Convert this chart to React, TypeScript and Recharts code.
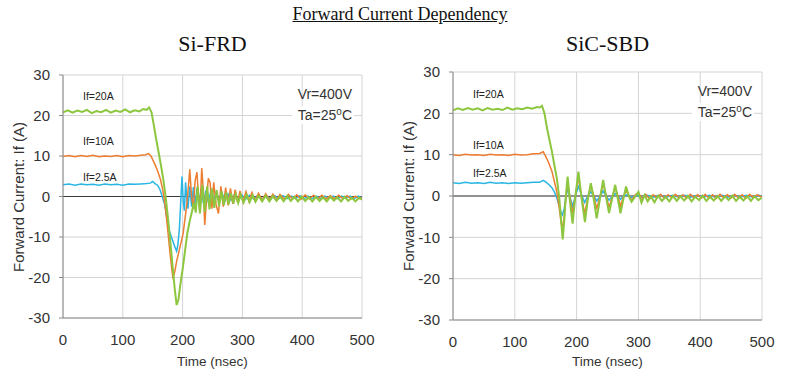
import { LineChart, Line, XAxis, YAxis, CartesianGrid, ReferenceLine } from 'recharts';

// time ticks (nsec) and current ticks (A)
const timeTicks = [0, 100, 200, 300, 400, 500];
const currentTicks = [-30, -20, -10, 0, 10, 20, 30];

// Si-FRD waveforms, [time nsec, current A]
const siFrd20: [number, number][] = [
  [0, 20.8], [8, 21.3], [16, 20.7], [24, 21.2], [32, 20.9], [40, 21.4], [48, 20.6], [56, 21.1], [64, 20.8], [72, 21.4],
  [80, 20.7], [88, 21.2], [96, 20.9], [104, 21.5], [112, 20.8], [120, 21.3], [128, 21.0], [134, 21.6], [140, 21.4], [144, 22.0],
  [148, 20.8], [152, 17.5], [156, 14], [160, 10.8], [164, 7.5], [168, 4], [172, -0.5], [176, -6], [180, -12], [184, -18.5],
  [187, -23], [190, -26.8], [193, -25.5], [196, -22], [200, -18], [204, -13.5], [208, -9], [212, -6], [216, -3.5], [219, -1.5],
  [222, -4], [225, 2.5], [229, -4.2], [233, 2.8], [237, -3.8], [241, 2.5], [245, -3.2], [249, 2], [253, -2.8], [257, 1.6],
  [261, -2.4], [265, 1.3], [269, -2.1], [273, 1], [277, -1.9], [281, 0.8], [285, -1.7], [289, 0.6], [293, -1.6], [297, 0.4],
  [302, -1.5], [307, 0.4], [312, -1.4], [317, 0.3], [322, -1.3], [327, 0.2], [333, -1.2], [339, 0.2], [345, -1.2], [351, 0.1],
  [357, -1.1], [363, 0], [369, -1.2], [375, 0.1], [381, -1.1], [387, -0.1], [393, -1.2], [399, 0], [405, -1.1], [411, -0.2],
  [417, -1.2], [423, -0.1], [429, -1.1], [435, -0.2], [441, -1.2], [447, -0.1], [453, -1.0], [459, -0.2], [465, -1.2], [471, -0.1],
  [477, -1.1], [483, -0.3], [489, -1.2], [495, -0.3], [500, -0.8],
];
const siFrd10: [number, number][] = [
  [0, 9.9], [10, 10.1], [20, 9.8], [30, 10.1], [40, 9.9], [50, 10.2], [60, 9.8], [70, 10.0], [80, 9.9], [90, 10.1],
  [100, 9.8], [110, 10.1], [120, 10.0], [130, 10.2], [138, 10.3], [143, 10.6], [147, 10.0], [151, 8.8], [155, 7.5], [159, 6],
  [163, 4.2], [167, 1.5], [171, -2.5], [175, -8], [179, -14], [182, -18], [184, -20.3], [187, -18.5], [190, -16], [194, -13.5],
  [198, -11], [201, -9], [204, -5.5], [207, -2], [210, 3], [212, 6.7], [215, 0], [218, -3], [221, 4], [224, 6],
  [227, -1], [229, -4], [232, 7], [235, 1], [237, -7], [240, -1], [243, 4.5], [246, 3.5], [249, -3], [252, 3.5],
  [256, -2], [260, -4.2], [264, 2.5], [268, -2.5], [272, 2.2], [276, -2.2], [280, 2], [284, -1.8], [288, 1.7], [292, -1.5],
  [296, 1.4], [301, -1.3], [306, 1.2], [311, -1.2], [316, 1], [321, -1], [327, 0.8], [333, -0.9], [339, 0.7], [345, -0.8],
  [351, 0.6], [357, -0.8], [363, 0.5], [370, -0.7], [377, 0.5], [384, -0.6], [391, 0.4], [398, -0.7], [405, 0.4], [412, -0.6],
  [419, 0.3], [426, -0.6], [433, 0.3], [440, -0.6], [447, 0.2], [454, -0.6], [461, 0.3], [468, -0.5], [475, 0.2], [482, -0.6],
  [489, 0.1], [496, -0.5], [500, -0.2],
];
const siFrd25: [number, number][] = [
  [0, 2.9], [10, 3.1], [20, 2.8], [30, 3.1], [40, 2.9], [50, 3.0], [60, 2.8], [70, 3.1], [80, 2.9], [90, 3.0],
  [100, 2.8], [110, 3.1], [120, 3.0], [130, 3.1], [140, 3.2], [146, 3.3], [150, 3.7], [154, 3.2], [158, 2.8], [162, 1.8],
  [166, 0], [170, -2], [174, -5.5], [178, -8.5], [182, -10.3], [187, -12.4], [190, -13.5], [192, -12], [194.5, -8.3], [197, -1],
  [199, 4.9], [201, -1], [203, -3.5], [205, 3.5], [207, -0.5], [209, -3], [212, 2.5], [215, -2.5], [218, 2.3], [221, -2.2],
  [224, 2], [227, -2], [231, 1.8], [235, -1.8], [239, 1.5], [243, -1.5], [247, 1.2], [251, -1.3], [256, 1], [261, -1.1],
  [266, 0.8], [271, -1], [276, 0.6], [281, -0.9], [287, 0.5], [293, -0.8], [299, 0.4], [305, -0.7], [312, 0.3], [319, -0.6],
  [326, 0.3], [333, -0.6], [340, 0.2], [347, -0.6], [354, 0.2], [361, -0.5], [368, 0.2], [375, -0.5], [382, 0.1], [389, -0.5],
  [396, 0.2], [403, -0.5], [410, 0.1], [417, -0.5], [424, 0.1], [431, -0.5], [438, 0.1], [445, -0.4], [452, 0.1], [459, -0.5],
  [466, 0.1], [473, -0.4], [480, 0.1], [487, -0.5], [494, 0.1], [500, -0.3],
];

// SiC-SBD waveforms, [time nsec, current A]
const sicSbd20: [number, number][] = [
  [0, 20.7], [8, 21.2], [16, 20.8], [24, 21.3], [32, 20.9], [40, 21.2], [48, 20.7], [56, 21.3], [64, 20.9], [72, 21.1],
  [80, 20.8], [88, 21.4], [96, 20.9], [104, 21.2], [112, 21.0], [120, 21.4], [128, 21.1], [136, 21.5], [140, 21.4], [144, 21.8],
  [148, 20], [152, 16.5], [156, 13.6], [160, 10.8], [164, 7.5], [168, 4.3], [172, -0.5], [175, -6], [177.5, -10.5], [180, -6],
  [182.5, 0], [185.5, 4.7], [189, -1], [193.5, -6.7], [198, 0], [203, 5.9], [208, -0.5], [213.5, -6.3], [218, -1], [223, 3.1],
  [228, -1], [232.5, -5.4], [238, -0.5], [243, 3.9], [248, -0.5], [252.5, -4.1], [258, -0.3], [262.5, 2.7], [267, -1], [271, -4.2],
  [276, -0.5], [280, 2.3], [285, -0.2], [289, -1.4], [294, -0.3], [300, 1], [305, -1.6], [310, 0.2], [315, -1.3], [320, -0.1],
  [326, -1.5], [332, 0.1], [338, -1.2], [344, -0.2], [350, -1.3], [356, 0], [362, -1.2], [368, -0.1], [374, -1.1], [380, 0],
  [386, -1.3], [392, -0.2], [398, -1.0], [404, 0.1], [410, -1.2], [416, -0.2], [422, -1.1], [428, 0], [434, -1.2], [440, -0.1],
  [446, -1.0], [452, 0.1], [458, -1.2], [464, -0.2], [470, -1.1], [476, 0], [482, -1.2], [488, -0.1], [494, -1.0], [500, -0.4],
];
const sicSbd10: [number, number][] = [
  [0, 10.0], [10, 9.8], [20, 10.1], [30, 9.9], [40, 10.0], [50, 9.8], [60, 10.1], [70, 9.9], [80, 10.0], [90, 9.8],
  [100, 10.1], [110, 9.9], [120, 10.0], [130, 10.2], [140, 10.3], [146, 10.7], [150, 9.6], [155, 8], [160, 6], [164, 3.5],
  [168, 1], [172, -3], [175, -6.5], [177, -7.8], [180, -5], [183, 0], [185.5, 3.3], [189, 0], [193.5, -4.2], [198, 0],
  [203, 4.5], [208, 0], [213, -4.3], [218, -0.5], [223, 2.5], [228, 0], [232.5, -3.2], [238, 0], [243, 3], [248, 0],
  [252.5, -2.8], [258, 0], [262.5, 2], [267, 0], [271, -2.5], [276, 0], [280, 1.3], [285, 0], [289, -1], [295, 0.3],
  [300, 0.8], [306, -0.6], [312, 0.4], [318, -0.7], [324, 0.3], [330, -0.5], [336, 0.4], [342, -0.6], [348, 0.3], [354, -0.4],
  [360, 0.4], [366, -0.5], [372, 0.3], [378, -0.6], [384, 0.4], [390, -0.4], [396, 0.3], [402, -0.5], [408, 0.4], [414, -0.5],
  [420, 0.3], [426, -0.6], [432, 0.4], [438, -0.4], [444, 0.3], [450, -0.5], [456, 0.4], [462, -0.5], [468, 0.3], [474, -0.6],
  [480, 0.4], [486, -0.4], [492, 0.3], [500, -0.2],
];
const sicSbd25: [number, number][] = [
  [0, 3.2], [10, 3.0], [20, 3.3], [30, 3.1], [40, 3.2], [50, 3.0], [60, 3.3], [70, 3.1], [80, 3.2], [90, 3.0],
  [100, 3.2], [110, 3.1], [120, 3.2], [130, 3.3], [140, 3.3], [146, 3.8], [150, 3.4], [155, 2.8], [160, 2], [164, 1],
  [168, -0.5], [172, -2.5], [175, -4], [177, -4.6], [180, -3], [183, 0], [185.5, 1.7], [189, 0], [193.5, -2.5], [198, 0],
  [203, 2.3], [208, 0.3], [213, -1.6], [218, 0], [223, 1], [228, 0], [232.5, -1.2], [238, 0], [243, 1.2], [248, 0],
  [252.5, -1], [258, 0], [262.5, 0.6], [267, 0], [271, -0.8], [276, 0], [281, 0.3], [289, -0.4], [297, 0.3], [305, -0.3],
  [315, 0.2], [325, -0.3], [335, 0.2], [345, -0.3], [355, 0.2], [365, -0.3], [375, 0.2], [385, -0.3], [395, 0.2], [405, -0.3],
  [415, 0.2], [425, -0.3], [435, 0.2], [445, -0.3], [455, 0.2], [465, -0.3], [475, 0.2], [485, -0.3], [495, 0.2], [500, 0],
];

const SANS = '"Liberation Sans", Arial, sans-serif';
const SERIF = '"Liberation Serif", "Times New Roman", serif';
const GREEN = '#8dc63f';
const ORANGE = '#ed7d31';
const BLUE = '#29b6e4';

const toPoints = (pairs: [number, number][]) => pairs.map(([t, i]) => ({ t, i }));

const tickStyle = { fontSize: 15, fontFamily: SANS, fill: '#333' };

interface PanelProps {
  x0: number;
  title: string;
  plotLeft: number;
  plotRight: number;
  plotTop: number;
  plotBottom: number;
  s20: [number, number][];
  s10: [number, number][];
  s25: [number, number][];
  labelY: [number, number, number];
  condTop: number;
}

function Panel({ x0, title, plotLeft, plotRight, plotTop, plotBottom, s20, s10, s25, labelY, condTop }: PanelProps) {
  const W = 400;
  const H = 379;
  const midX = (plotLeft + plotRight) / 2;
  const small = { position: 'absolute' as const, fontFamily: SANS, fontSize: 10.5, color: '#222', lineHeight: '12px' };
  return (
    <div style={{ position: 'absolute', left: x0, top: 0, width: W, height: H }}>
      <LineChart width={W} height={H} margin={{ top: plotTop, right: W - plotRight, left: 0, bottom: 0 }}>
        <CartesianGrid stroke="#d4d4d4" />
        <XAxis
          type="number"
          dataKey="t"
          domain={[0, 500]}
          ticks={timeTicks}
          height={H - plotBottom}
          tick={tickStyle}
          tickLine={false}
          tickMargin={10}
          axisLine={{ stroke: '#8a8a8a' }}
          allowDataOverflow
        />
        <YAxis
          type="number"
          domain={[-30, 30]}
          ticks={currentTicks}
          width={plotLeft}
          tick={tickStyle}
          tickSize={4}
          tickMargin={9}
          tickLine={{ stroke: '#8a8a8a' }}
          axisLine={{ stroke: '#8a8a8a' }}
          allowDataOverflow
        />
        <ReferenceLine y={0} stroke="#3a3a3a" strokeWidth={1.2} />
        <Line data={toPoints(s25)} dataKey="i" type="linear" stroke={BLUE} strokeWidth={1.5} dot={false} isAnimationActive={false} />
        <Line data={toPoints(s10)} dataKey="i" type="linear" stroke={ORANGE} strokeWidth={1.5} dot={false} isAnimationActive={false} />
        <Line data={toPoints(s20)} dataKey="i" type="linear" stroke={GREEN} strokeWidth={2} dot={false} isAnimationActive={false} />
      </LineChart>

      <div style={{ position: 'absolute', left: midX - 100, top: 33, width: 200, textAlign: 'center', fontFamily: SERIF, fontSize: 22, lineHeight: '22px', color: '#111' }}>
        {title}
      </div>

      <div style={{ ...small, left: plotLeft + 20, top: labelY[0] - 6 }}>If=20A</div>
      <div style={{ ...small, left: plotLeft + 20, top: labelY[1] - 6 }}>If=10A</div>
      <div style={{ ...small, left: plotLeft + 20, top: labelY[2] - 6 }}>If=2.5A</div>

      <div style={{ position: 'absolute', right: W - plotRight + 8, top: condTop, fontFamily: SANS, fontSize: 14, lineHeight: '17px', color: '#333', textAlign: 'right' }}>
        <div style={{ padding: '0 2px' }}>Vr=400V</div>
        <div style={{ background: '#fff', padding: '1px 2px 0 6px', marginTop: 3 }}>
          Ta=25<sup style={{ fontSize: 10, verticalAlign: 'top', lineHeight: '10px' }}>o</sup>C
        </div>
      </div>

      <div style={{ position: 'absolute', left: plotLeft - 144, top: (plotTop + plotBottom) / 2 - 9, width: 200, height: 18, lineHeight: '18px', textAlign: 'center', transform: 'rotate(-90deg)', fontFamily: SANS, fontSize: 15, color: '#333' }}>
        Forward Current: If (A)
      </div>

      <div style={{ position: 'absolute', left: midX - 60, top: 354, width: 120, textAlign: 'center', fontFamily: SANS, fontSize: 13.5, lineHeight: '15px', color: '#333' }}>
        Time (nsec)
      </div>
    </div>
  );
}

export default function App() {
  return (
    <div style={{ position: 'absolute', left: 0, top: 0, width: 800, height: 379, background: '#fff', overflow: 'hidden' }}>
      <div style={{ position: 'absolute', left: 0, top: 5, width: 800, textAlign: 'center', fontFamily: SERIF, fontSize: 18, lineHeight: '18px', color: '#111' }}>
        <span style={{ textDecoration: 'underline' }}>Forward Current Dependency</span>
      </div>
      <Panel
        x0={0}
        title="Si-FRD"
        plotLeft={63}
        plotRight={362}
        plotTop={75}
        plotBottom={318}
        s20={siFrd20}
        s10={siFrd10}
        s25={siFrd25}
        labelY={[96, 141, 177]}
        condTop={86}
      />
      <Panel
        x0={400}
        title="SiC-SBD"
        plotLeft={53}
        plotRight={362}
        plotTop={72}
        plotBottom={320}
        s20={sicSbd20}
        s10={sicSbd10}
        s25={sicSbd25}
        labelY={[94, 145, 173]}
        condTop={83}
      />
    </div>
  );
}
